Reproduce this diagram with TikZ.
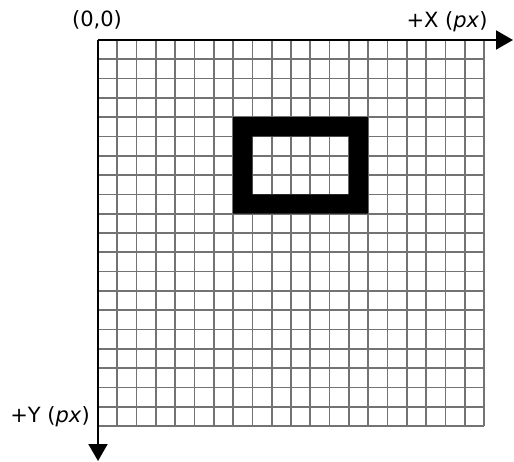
\documentclass[tikz,border=0pt]{standalone}
\usepackage{fontspec}
\setmainfont{DejaVu Sans}
\usetikzlibrary{arrows.meta}

\begin{document}
\begin{tikzpicture}[x=1pt, y=-1pt,
  gridline/.style={draw=black!55, line width=1.7pt},
  axis/.style={-{Triangle[length=17pt,width=19pt]}, line width=2pt},
  label/.style={font=\fontsize{21}{24}\selectfont, inner sep=0pt}
]
\useasboundingbox (0,0) rectangle (514,462);
\def\cell{19.3}
\coordinate (origin) at (98,40);
\coordinate (xend) at (513,40);
\coordinate (yend) at (98,461);

% grid of 20 x 20 pixels
\foreach \i in {1,...,20} {
  \draw[gridline] (98+\i*\cell,40) -- (98+\i*\cell,40+20*\cell);
  \draw[gridline] (98,40+\i*\cell) -- (98+20*\cell,40+\i*\cell);
}

% the hollow rectangle, one pixel wide
\fill[black, even odd rule]
  (98+7*\cell,40+4*\cell) rectangle (98+14*\cell,40+9*\cell)
  (98+8*\cell,40+5*\cell) rectangle (98+13*\cell,40+8*\cell);

% axes
\draw[axis] (origin) -- (xend);
\draw[axis] (origin) -- (yend);

\node[label] (zero) at (97,20) {(0,0)};
\node[label] (xlabel) at (447,22) {+X (\textit{px})};
\node[label] (ylabel) at (50,417) {+Y (\textit{px})};
\end{tikzpicture}
\end{document}
